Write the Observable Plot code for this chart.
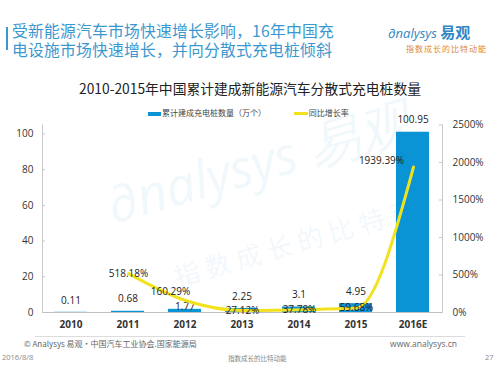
<!DOCTYPE html>
<html>
<head>
<meta charset="utf-8">
<script src="https://cdn.jsdelivr.net/npm/d3@7"></script>
<script src="https://cdn.jsdelivr.net/npm/@observablehq/plot@0.6"></script>
<style>
  html, body { margin: 0; padding: 0; background: #fff; }
  body { width: 500px; height: 375px; overflow: hidden; position: relative;
         font-family: "Open Sans", "Noto Sans CJK SC", sans-serif; }
  .abs { position: absolute; white-space: nowrap; }
  #bars, #line { position: absolute; left: 0; top: 0; }
  #bars svg, #line svg { display: block; }
</style>
</head>
<body>
<div class="abs" style="left:100px;top:178px;transform:rotate(-16deg);transform-origin:left top;font-size:52px;line-height:56px;color:rgba(170,210,238,0.16);font-family:'Open Sans';font-style:italic;">∂nalysys 易观</div>
<div class="abs" style="left:170px;top:262px;transform:rotate(-16deg);transform-origin:left top;font-size:26px;line-height:30px;color:rgba(170,210,238,0.16);font-family:'Noto Sans CJK SC';letter-spacing:6px;">指数成长的比特动</div>

<div class="abs" style="left:6px;top:27px;width:2px;height:23px;background:#3b97cf;"></div>
<div class="abs" style="left:12px;top:22px;font-size:15.8px;line-height:17px;height:17px;color:#3b97cf;font-family:'Noto Sans CJK SC',sans-serif;letter-spacing:0.2px;">受新能源汽车市场快速增长影响，16年中国充</div>
<div class="abs" style="left:12px;top:41px;font-size:15.8px;line-height:17px;height:17px;color:#3b97cf;font-family:'Noto Sans CJK SC',sans-serif;letter-spacing:0.2px;">电设施市场快速增长，并向分散式充电桩倾斜</div>
<div class="abs" style="left:388px;top:21px;font-size:13px;color:#2f86c5;font-style:italic;font-family:'Open Sans',sans-serif;">∂nalysys <span style="font-style:normal;font-weight:bold;font-size:15px;font-family:'Noto Sans CJK SC';">易观</span></div>
<div class="abs" style="left:406px;top:43px;font-size:8px;color:#e0883a;font-family:'Noto Sans CJK SC',sans-serif;letter-spacing:1px;">指数成长的比特动能</div>

<div class="abs" style="left:0;top:78px;width:500px;text-align:center;font-size:13.8px;color:#222;font-family:'Noto Sans CJK SC',sans-serif;">2010-2015年中国累计建成新能源汽车分散式充电桩数量</div>

<div class="abs" style="left:148px;top:107px;font-size:8px;color:#444;font-family:'Noto Sans CJK SC',sans-serif;line-height:12px;">
  <span style="display:inline-block;width:13px;height:4px;background:#0a94d6;vertical-align:middle;margin-right:1px;"></span>累计建成充电桩数量（万个）
  <span style="display:inline-block;width:14px;height:3px;background:#f2e21d;vertical-align:middle;margin-left:26px;margin-right:1px;"></span>同比增长率
</div>

<div id="bars"></div>
<div id="line"></div>

<div class="abs" style="left:35px;top:336px;width:430px;height:1px;background:#dcdcdc;"></div>
<div class="abs" style="left:24px;top:338px;font-size:8px;color:#666;font-family:'Noto Sans CJK SC',sans-serif;">© Analysys 易观·中国汽车工业协会.国家能源局</div>
<div class="abs" style="right:43px;top:338px;font-size:8.5px;color:#666;font-family:'Open Sans',sans-serif;">www.analysys.cn</div>
<div class="abs" style="left:2px;top:352px;font-size:7.5px;color:#888;font-family:'Open Sans',sans-serif;">2016/8/8</div>
<div class="abs" style="left:228px;top:353px;font-size:6.5px;color:#888;font-family:'Noto Sans CJK SC',sans-serif;">指数成长的比特动能</div>
<div class="abs" style="left:485px;top:352px;font-size:7.5px;color:#888;font-family:'Open Sans',sans-serif;">27</div>

<script>
const categories = ["2010", "2011", "2012", "2013", "2014", "2015", "2016E"];
const piles = [0.11, 0.68, 1.77, 2.25, 3.1, 4.95, 100.95];
const growthYears = ["2011", "2012", "2013", "2014", "2015", "2016E"];
const growth = [518.18, 160.29, 27.12, 37.78, 59.68, 1939.39];
const growthLabels = ["518.18%", "160.29%", "27.12%", "37.78%", "59.68%", "1939.39%"];
const leftTicks = [0, 20, 40, 60, 80, 100];
const rightTicks = [0, 500, 1000, 1500, 2000, 2500];

const barData = categories.map((c, i) => ({year: c, value: piles[i]}));
const lineData = growthYears.map((c, i) => ({year: c, value: growth[i], label: growthLabels[i]}));

const W = 500, H = 375;
const margins = {marginTop: 124.5, marginBottom: 63, marginLeft: 42, marginRight: 58};
const plotW = W - margins.marginLeft - margins.marginRight;
const font = "'Open Sans', 'Noto Sans CJK SC', sans-serif";

const bars = Plot.plot({
  width: W, height: H, ...margins,
  style: {background: "transparent", fontFamily: font},
  x: {domain: categories, paddingInner: 0.42, paddingOuter: 0.21, axis: null},
  y: {domain: [0, 105], axis: null},
  marks: [
    Plot.barY(barData, {x: "year", y: "value", fill: "#0a94d6"}),
    Plot.ruleY([0], {stroke: "#bfbfbf", strokeWidth: 1}),
    Plot.frame({anchor: "left", stroke: "#c8c8c8"}),
    Plot.ruleY(leftTicks.slice(1), {stroke: "#c8c8c8", insetRight: plotW - 3}),
    Plot.axisY(leftTicks, {anchor: "left", label: null, tickSize: 0, tickPadding: 9, fontSize: 10, fill: "#333"}),
    Plot.axisX({label: null, tickSize: 0, tickPadding: 8, fontSize: 10, fontWeight: "bold", fill: "#333"}),
    Plot.text(barData.filter(d => d.year !== "2012"), {x: "year", y: "value", text: d => String(d.value), dy: -12, fontSize: 10, fill: "#222"}),
    Plot.text(barData.filter(d => d.year === "2012"), {x: "year", y: "value", text: d => String(d.value), dy: -3, fontSize: 10, fill: "#222"})
  ]
});
document.getElementById("bars").append(bars);

const line = Plot.plot({
  width: W, height: H, ...margins,
  style: {background: "transparent", fontFamily: font},
  x: {type: "point", domain: categories, padding: 0.5, axis: null},
  y: {domain: [0, 2500], axis: null},
  marks: [
    Plot.frame({anchor: "right", stroke: "#c8c8c8"}),
    Plot.ruleY(rightTicks.slice(1), {stroke: "#c8c8c8", insetLeft: plotW - 3}),
    Plot.axisY(rightTicks, {anchor: "right", label: null, tickSize: 0, tickPadding: 10, fontSize: 10, fill: "#333", tickFormat: d => d + "%"}),
    Plot.line(lineData, {x: "year", y: "value", stroke: "#f2e21d", strokeWidth: 3, curve: "monotone-x"}),
    Plot.text(lineData.filter(d => d.year !== "2012" && d.year !== "2016E"), {x: "year", y: "value", text: "label", dy: 0, fontSize: 10, fill: "#222"}),
    Plot.text(lineData.filter(d => d.year === "2012"), {x: "year", y: "value", text: "label", dx: -15, dy: -9, fontSize: 10, fill: "#222"}),
    Plot.text(lineData.filter(d => d.year === "2016E"), {x: "year", y: "value", text: "label", dx: -32, dy: -6, fontSize: 10, fill: "#222"})
  ]
});
document.getElementById("line").append(line);
</script>
</body>
</html>
